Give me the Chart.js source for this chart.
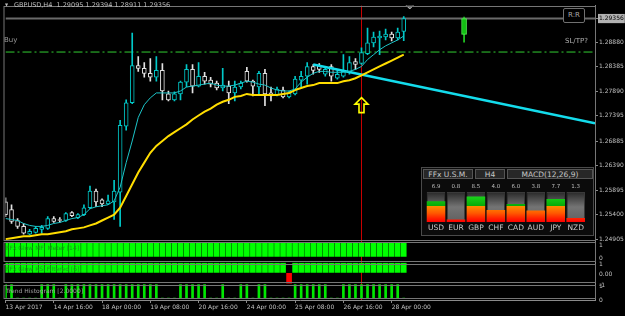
<!DOCTYPE html>
<html>
<head>
<meta charset="utf-8">
<script src="https://cdn.jsdelivr.net/npm/chart.js@4"></script>
<style>
  html, body { margin: 0; padding: 0; background: #000; }
  #wrap { position: relative; width: 625px; height: 316px; overflow: hidden; background: #000; font-family: 'DejaVu Sans', sans-serif; }
  #wrap canvas { position: absolute; }
  .txt { position: absolute; white-space: pre; line-height: 1; }
  .hdr { position: absolute; height: 10px; line-height: 10px; font-size: 7.5px; color: #c8c8c8; text-align: center;
         background: #272727; border: 1px solid #555; box-sizing: border-box; }
</style>
</head>
<body>
<div id="wrap">
  <canvas id="main" width="625" height="316" style="left:0;top:0"></canvas>

  <div class="txt" style="left:5px;top:3px;font-size:4px;color:#bdbdbd">▼</div>
  <div class="txt" style="left:14px;top:2px;font-size:6.5px;color:#bdbdbd">GBPUSD,H4  1.29095 1.29394 1.28911 1.29356</div>
  <div class="txt" style="left:4px;top:37px;font-size:7px;color:#9a9a9a">Buy</div>
  <div class="txt" style="left:565px;top:38px;font-size:7px;color:#b0b0b0">SL/TP?</div>
  <div class="txt" style="left:563px;top:8px;width:20px;height:13px;line-height:13px;font-size:7px;color:#a8a8a8;text-align:center;background:#000;border:1px solid #707070;border-radius:2px">R:R</div>

  <div class="txt" style="left:6px;top:245px;font-size:6px;color:#1a961a">FFx Glow MFI Meter [14]</div>
  <div class="txt" style="left:6px;top:266px;font-size:6px;color:#1a961a">FFx Glow RSI Filtered [6]</div>
  <div class="txt" style="left:6px;top:288px;font-size:6px;color:#a0a0a0">Trend Histogram [2.0000]</div>

  <div style="position:absolute;left:421px;top:167px;width:173px;height:69px;background:#0b0b0b;border:1px solid #4a4a4a;box-sizing:border-box"></div>
  <div class="hdr" style="left:423px;top:169px;width:50px">FFx U.S.M.</div>
  <div class="hdr" style="left:475px;top:169px;width:30px">H4</div>
  <div class="hdr" style="left:507px;top:169px;width:86px">MACD(12,26,9)</div>
  <canvas id="usm" width="160" height="55" style="left:426px;top:180px"></canvas>
</div>

<script>
Chart.defaults.font.family = "'DejaVu Sans', sans-serif";
Chart.defaults.color = '#c0c0c0';

// time axis: one label every 8 bars (H4)
const timeLabels = ['13 Apr 2017', '14 Apr 16:00', '18 Apr 00:00', '19 Apr 08:00', '20 Apr 16:00',
    '24 Apr 00:00', '25 Apr 08:00', '26 Apr 16:00', '28 Apr 00:00'];
const barsPerLabel = 8;
const lastBar = 97.7; // right edge of the window, counted in bars

// GBPUSD H4 candles
const opens = [1.25657, 1.25499, 1.25281, 1.25162, 1.25004, 1.25043, 1.25103, 1.25122, 1.25320, 1.25301,
    1.25281, 1.25439, 1.25340, 1.25400, 1.25538, 1.25875, 1.25697, 1.25617, 1.25657, 1.25855,
    1.27182, 1.27657, 1.28409, 1.28350, 1.28251, 1.28172, 1.28310, 1.27835, 1.27716, 1.27835,
    1.28073, 1.28330, 1.27993, 1.28191, 1.28112, 1.28053, 1.27954, 1.27993, 1.27855, 1.27974,
    1.28290, 1.28092, 1.27974, 1.28251, 1.27855, 1.27815, 1.27914, 1.27776, 1.27835, 1.28112,
    1.28191, 1.28389, 1.28409, 1.28231, 1.28389, 1.28152, 1.28191, 1.28271, 1.28488, 1.28449,
    1.28647, 1.28865, 1.28964, 1.28983, 1.29043, 1.28964, 1.29095];
const highs = [1.25736, 1.25598, 1.25320, 1.25221, 1.25103, 1.25162, 1.25182, 1.25360, 1.25360, 1.25340,
    1.25439, 1.25459, 1.25419, 1.25598, 1.25974, 1.25914, 1.25716, 1.25796, 1.26093, 1.27300,
    1.27716, 1.29063, 1.28587, 1.28469, 1.28548, 1.28587, 1.28449, 1.27894, 1.27875, 1.28092,
    1.28429, 1.28429, 1.28469, 1.28271, 1.28172, 1.28092, 1.28350, 1.28092, 1.28092, 1.28092,
    1.28370, 1.28112, 1.28290, 1.28330, 1.27974, 1.27974, 1.27974, 1.27894, 1.28191, 1.28290,
    1.28469, 1.28429, 1.28449, 1.28370, 1.28429, 1.28330, 1.28627, 1.28587, 1.28548, 1.28766,
    1.29162, 1.29082, 1.29102, 1.29142, 1.29082, 1.29162, 1.29394];
const lows = [1.25360, 1.25221, 1.25122, 1.25004, 1.24995, 1.25023, 1.25023, 1.25103, 1.25241, 1.25241,
    1.25261, 1.25360, 1.25320, 1.25380, 1.25518, 1.25558, 1.25558, 1.25598, 1.25301, 1.25162,
    1.27102, 1.27637, 1.28290, 1.28172, 1.28092, 1.28092, 1.27716, 1.27696, 1.27696, 1.27716,
    1.27974, 1.27855, 1.27975, 1.28033, 1.27974, 1.27914, 1.27894, 1.27637, 1.27696, 1.27934,
    1.28073, 1.27795, 1.27835, 1.27597, 1.27696, 1.27795, 1.27756, 1.27756, 1.27815, 1.27974,
    1.28033, 1.28231, 1.28271, 1.28191, 1.28092, 1.28132, 1.28175, 1.28231, 1.28330, 1.28429,
    1.28627, 1.28785, 1.28627, 1.28924, 1.28904, 1.28924, 1.28911];
const closes = [1.25400, 1.25261, 1.25162, 1.25023, 1.25063, 1.25122, 1.25142, 1.25320, 1.25261, 1.25281,
    1.25419, 1.25380, 1.25400, 1.25538, 1.25875, 1.25657, 1.25617, 1.25677, 1.25875, 1.27201,
    1.27657, 1.28409, 1.28350, 1.28251, 1.28172, 1.28310, 1.27894, 1.27716, 1.27835, 1.28073,
    1.28330, 1.27993, 1.28191, 1.28092, 1.28033, 1.27954, 1.28013, 1.27855, 1.27974, 1.28053,
    1.28092, 1.27993, 1.28251, 1.27835, 1.27795, 1.27934, 1.27776, 1.27855, 1.28132, 1.28191,
    1.28389, 1.28310, 1.28330, 1.28330, 1.28191, 1.28231, 1.28290, 1.28469, 1.28429, 1.28667,
    1.28865, 1.28983, 1.29003, 1.29043, 1.28964, 1.29082, 1.29356];

// moving averages
const fastMA = [1.25320, 1.25301, 1.25281, 1.25221, 1.25182, 1.25162, 1.25162, 1.25182, 1.25221, 1.25241,
    1.25281, 1.25320, 1.25340, 1.25400, 1.25518, 1.25558, 1.25578, 1.25598, 1.25677, 1.25954,
    1.26449, 1.26885, 1.27360, 1.27617, 1.27756, 1.27855, 1.27855, 1.27855, 1.27855, 1.27894,
    1.27974, 1.27993, 1.28013, 1.28033, 1.28053, 1.28013, 1.27993, 1.27993, 1.28013, 1.28053,
    1.28092, 1.28073, 1.28033, 1.28013, 1.27954, 1.27914, 1.27894, 1.27894, 1.27934, 1.28073,
    1.28172, 1.28251, 1.28290, 1.28290, 1.28271, 1.28271, 1.28271, 1.28290, 1.28330, 1.28389,
    1.28528, 1.28627, 1.28726, 1.28805, 1.28865, 1.28924, 1.29003];
const slowMA = [1.24905, 1.24925, 1.24944, 1.24964, 1.24964, 1.24984, 1.25004, 1.25004, 1.25023, 1.25043,
    1.25063, 1.25103, 1.25122, 1.25142, 1.25182, 1.25221, 1.25281, 1.25340, 1.25400, 1.25538,
    1.25776, 1.26013, 1.26251, 1.26449, 1.26647, 1.26786, 1.26885, 1.26984, 1.27063, 1.27142,
    1.27221, 1.27320, 1.27399, 1.27479, 1.27538, 1.27617, 1.27677, 1.27716, 1.27776, 1.27795,
    1.27835, 1.27815, 1.27815, 1.27815, 1.27815, 1.27815, 1.27835, 1.27855, 1.27914, 1.27954,
    1.27993, 1.28013, 1.28053, 1.28053, 1.28053, 1.28053, 1.28092, 1.28112, 1.28152, 1.28211,
    1.28271, 1.28330, 1.28389, 1.28449, 1.28508, 1.28568, 1.28627];

const priceTicks = [1.29356, 1.28880, 1.28385, 1.27890, 1.27395, 1.26885, 1.26390, 1.25895, 1.25400, 1.24905];
const bidPrice = 1.29356;
const buyLevel = 1.2868;
const trendRay = [{x: 51, y: 1.28429}, {x: 97.7, y: 1.27241}];
const signalBar = 59;
const arrowPrice = 1.2776;
const projBar = 76;
const projOHLC = [1.29037, 1.29385, 1.28878, 1.29354];
const topMarker = {x: 67, y: 1.2964};

// indicator windows
const mfiValues = [1, 1, 1, 1, 1, 1, 1, 1, 1, 1, 1, 1, 1, 1, 1, 1, 1, 1, 1, 1, 1, 1, 1, 1, 1, 1, 1, 1, 1, 1,
    1, 1, 1, 1, 1, 1, 1, 1, 1, 1, 1, 1, 1, 1, 1, 1, 1, 1, 1, 1, 1, 1, 1, 1, 1, 1, 1, 1, 1, 1,
    1, 1, 1, 1, 1, 1, 1];
const rsiValues = [1, 1, 1, 1, 1, 1, 1, 1, 1, 1, 1, 1, 1, 1, 1, 1, 1, 1, 1, 1, 1, 1, 1, 1, 1, 1, 1, 1, 1, 1,
    1, 1, 1, 1, 1, 1, 1, 1, 1, 1, 1, 1, 1, 1, 1, 1, 1, -1, 1, 1, 1, 1, 1, 1, 1, 1, 1, 1, 1, 1,
    1, 1, 1, 1, 1, 1, 1];
const trendHist = [1, 1, 0, 0, 0, 0, 1, 1, 1, 0, 1, 1, 1, 1, 1, 1, 1, 1, 1, 1,
    1, 1, 1, 1, 1, 1, 0, 0, 0, 1, 1, 1, 1, 1, 0, 0, 1, 0, 0, 1,
    1, 0, 1, 1, 0, 0, 0, 0, 1, 1, 1, 1, 1, 1, 0, 0, 1, 1, 1, 1,
    1, 1, 1, 1, 1, 1, 0];
const mfiTicks = [1, 0], mfiTickText = ['1', '0'];
const rsiTicks = [1, 0, -1], rsiTickText = ['1', '0.00', '-1'];
const trendTicks = [1, 0], trendTickText = ['1', '0'];

// currency strength meter
const currencies = ['USD', 'EUR', 'GBP', 'CHF', 'CAD', 'AUD', 'JPY', 'NZD'];
const strength = [6.9, 0.8, 8.5, 4.0, 6.0, 3.8, 7.7, 1.3];
const strengthMax = 10;

const bull = '#00c8c8', bear = '#e2e2e2';
const isBull = opens.map((o, i) => closes[i] >= o);
const barIndex = opens.map((_, i) => i);

function panelAxis(weight, min, max, values, texts) {
    return {
        type: 'linear', axis: 'y', position: 'right', stack: 'panels', stackWeight: weight, min: min, max: max,
        afterBuildTicks: s => { s.ticks = values.map(v => ({value: v})); },
        afterFit: s => { s.width = 30; },
        ticks: { callback: (v, i) => texts[i], font: {size: 6}, padding: 2, labelOffset: 2, autoSkip: false, color: '#c0c0c0' },
        grid: { drawOnChartArea: false, color: 'transparent', tickLength: 2 },
        border: { color: '#8a8a8a' }
    };
}

const frames = {
    id: 'frames',
    beforeDatasetsDraw(chart) {
        const {ctx, chartArea, scales} = chart;
        const x = Math.round(scales.x.getPixelForValue(signalBar)) + 0.5;
        ctx.save();
        ctx.strokeStyle = '#c80000';
        ctx.lineWidth = 1;
        ctx.beginPath();
        ctx.moveTo(x, chartArea.top);
        ctx.lineTo(x, chartArea.bottom);
        ctx.stroke();
        ctx.restore();
    },
    afterDatasetsDraw(chart) {
        const {ctx, chartArea, scales} = chart;
        ctx.save();
        ctx.strokeStyle = '#767676';
        ctx.lineWidth = 1;
        ['y', 'p1', 'p2', 'p3'].forEach((id, k) => {
            const s = scales[id];
            const inset = k ? 1 : 0;
            const top = Math.round(s.top) + inset + 0.5;
            const bottom = Math.round(s.bottom) - inset - 0.5;
            ctx.strokeRect(chartArea.left - 1.5, top, chartArea.right - chartArea.left + 2, bottom - top);
        });
        // yellow signal arrow
        const ax = Math.round(scales.x.getPixelForValue(signalBar)) + 0.5;
        const ay = scales.y.getPixelForValue(arrowPrice);
        ctx.strokeStyle = '#ffff00';
        ctx.lineWidth = 1.6;
        ctx.beginPath();
        ctx.moveTo(ax, ay);
        ctx.lineTo(ax + 6.5, ay + 6.5);
        ctx.lineTo(ax + 2.5, ay + 6.5);
        ctx.lineTo(ax + 2.5, ay + 15);
        ctx.lineTo(ax - 2.5, ay + 15);
        ctx.lineTo(ax - 2.5, ay + 6.5);
        ctx.lineTo(ax - 6.5, ay + 6.5);
        ctx.closePath();
        ctx.stroke();
        ctx.restore();
    }
};

new Chart(document.getElementById('main'), {
    type: 'bar',
    data: {
        labels: barIndex,
        datasets: [
            { type: 'line', data: fastMA, yAxisID: 'y', borderColor: '#1cc4c8', borderWidth: 1, pointRadius: 0, order: 0 },
            { type: 'line', data: slowMA, yAxisID: 'y', borderColor: '#ffdd00', borderWidth: 2, pointRadius: 0, order: 0 },
            { type: 'line', data: trendRay, yAxisID: 'y', borderColor: '#14dcec', borderWidth: 2.5, pointRadius: 0, order: 0 },
            { type: 'line', data: [topMarker], yAxisID: 'y', showLine: false, pointStyle: 'rectRot', pointRadius: 4.5,
              pointBackgroundColor: '#6e6e6e', pointBorderColor: '#b8b8b8', order: 0 },
            { data: opens.map((o, i) => [o, closes[i]]), yAxisID: 'y', backgroundColor: '#000',
              borderColor: isBull.map(b => b ? bull : bear), borderWidth: 1, borderSkipped: false,
              barThickness: 4, grouped: false, order: 1 },
            { data: lows.map((l, i) => [l, highs[i]]), yAxisID: 'y',
              backgroundColor: isBull.map(b => b ? bull : bear), barThickness: 1, grouped: false, order: 2 },
            { data: [{x: projBar, y: [projOHLC[0], projOHLC[3]]}], yAxisID: 'y', backgroundColor: '#12c012',
              borderColor: '#50f050', borderWidth: 1, borderSkipped: false, barThickness: 5, grouped: false, order: 1 },
            { data: [{x: projBar, y: [projOHLC[2], projOHLC[1]]}], yAxisID: 'y', backgroundColor: '#22d022',
              barThickness: 1, grouped: false, order: 2 },
            { type: 'line', data: [{x: 0, y: bidPrice}, {x: lastBar, y: bidPrice}], yAxisID: 'y',
              borderColor: '#6a6a6a', borderWidth: 2, pointRadius: 0, order: 5 },
            { type: 'line', data: [{x: 0, y: buyLevel}, {x: lastBar, y: buyLevel}], yAxisID: 'y',
              borderColor: '#32cd32', borderWidth: 1, borderDash: [9, 3, 2, 3], pointRadius: 0, order: 5 },
            { data: mfiValues, yAxisID: 'p1', backgroundColor: '#00ff00', barThickness: 5, grouped: false, order: 3 },
            { data: rsiValues, yAxisID: 'p2', backgroundColor: rsiValues.map(v => v < 0 ? '#ff0000' : '#00ff00'),
              barThickness: 5, grouped: false, order: 3 },
            { data: trendHist, yAxisID: 'p3', backgroundColor: '#00e800', barThickness: 2, grouped: false, order: 3 }
        ]
    },
    options: {
        responsive: false,
        animation: false,
        layout: { padding: {left: 3, top: 0, right: 0, bottom: 0} },
        plugins: { legend: {display: false}, tooltip: {enabled: false} },
        scales: {
            x: {
                type: 'linear', position: 'bottom', min: 0, max: lastBar, offset: false,
                afterBuildTicks: s => { s.ticks = timeLabels.map((_, k) => ({value: k * barsPerLabel})); },
                afterFit: s => { s.height = 16; },
                ticks: { callback: v => timeLabels[v / barsPerLabel], align: 'start', font: {size: 6}, padding: 1,
                         maxRotation: 0, autoSkip: false, color: '#c0c0c0' },
                grid: { drawOnChartArea: false, offset: false, tickLength: 3, color: '#8a8a8a' },
                border: { color: '#8a8a8a' }
            },
            y: {
                type: 'linear', axis: 'y', position: 'right', stack: 'panels', stackWeight: 240,
                min: 1.24865, max: 1.29617,
                afterBuildTicks: s => { s.ticks = priceTicks.map(v => ({value: v})); },
                afterFit: s => { s.width = 30; },
                ticks: {
                    callback: v => v.toFixed(5), font: {size: 6}, padding: 1, autoSkip: false,
                    color: ctx => ctx.tick.value === bidPrice ? '#000' : '#c0c0c0',
                    showLabelBackdrop: ctx => ctx.tick.value === bidPrice,
                    backdropColor: '#b2b2b2', backdropPadding: {x: 1, y: 1}
                },
                grid: { drawOnChartArea: false, tickLength: 3, color: '#8a8a8a' },
                border: { color: '#8a8a8a' }
            },
            p1: panelAxis(22, -0.43, 1.14, mfiTicks, mfiTickText),
            p2: panelAxis(22, -1.12, 1.0, rsiTicks, rsiTickText),
            p3: panelAxis(16, -0.14, 1.0, trendTicks, trendTickText)
        }
    },
    plugins: [frames]
});

function strengthFill(context) {
    const {ctx, chartArea} = context.chart;
    if (!chartArea) return '#ff6000';
    const g = ctx.createLinearGradient(0, chartArea.bottom, 0, chartArea.top);
    g.addColorStop(0, '#ff0000');
    g.addColorStop(0.12, '#ff2000');
    g.addColorStop(0.3, '#ff5a00');
    g.addColorStop(0.525, '#ff8c00');
    g.addColorStop(0.53, '#08a808');
    g.addColorStop(1, '#22e822');
    return g;
}

function trackFill(context) {
    const {ctx, chartArea} = context.chart;
    if (!chartArea) return '#444';
    const g = ctx.createLinearGradient(0, chartArea.bottom, 0, chartArea.top);
    g.addColorStop(0, '#606060');
    g.addColorStop(0.5, '#747474');
    g.addColorStop(1, '#282828');
    return g;
}

new Chart(document.getElementById('usm'), {
    type: 'bar',
    data: {
        labels: currencies,
        datasets: [
            { data: strength, backgroundColor: strengthFill, grouped: false, barPercentage: 0.93, categoryPercentage: 1, order: 0 },
            { data: currencies.map(() => strengthMax), backgroundColor: trackFill, borderColor: '#3a3a3a', borderWidth: 1,
              grouped: false, barPercentage: 0.93, categoryPercentage: 1, order: 1 }
        ]
    },
    options: {
        responsive: false,
        animation: false,
        layout: { padding: 0 },
        plugins: { legend: {display: false}, tooltip: {enabled: false} },
        scales: {
            x: {
                position: 'bottom', grid: {display: false, drawTicks: false}, border: {display: false},
                ticks: { color: '#c8c8c8', font: {size: 7.5}, padding: 2, maxRotation: 0, minRotation: 0, autoSkip: false },
                afterFit: s => { s.height = 13; }
            },
            x2: {
                type: 'category', position: 'top', labels: strength.map(v => v.toFixed(1)), offset: true,
                grid: {display: false, drawTicks: false}, border: {display: false},
                ticks: { color: '#bdbdbd', font: {size: 5.5}, padding: 2, maxRotation: 0, minRotation: 0, autoSkip: false },
                afterFit: s => { s.height = 12; }
            },
            y: { display: false, min: 0, max: strengthMax }
        }
    }
});
</script>
</body>
</html>
